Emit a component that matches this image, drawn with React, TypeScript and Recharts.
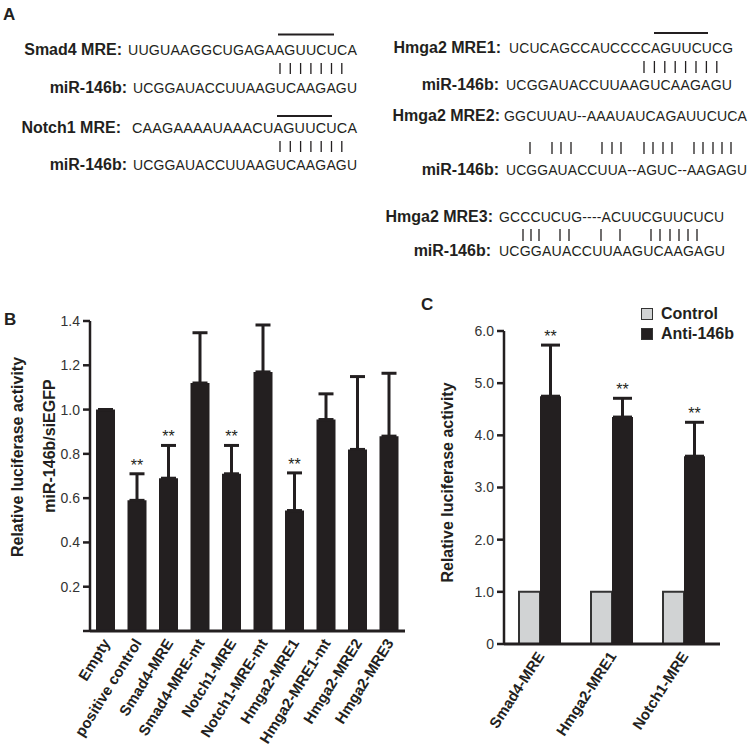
import React from 'react'
import { BarChart, Bar, XAxis, YAxis, ErrorBar, LabelList, Legend, Label } from 'recharts'

const FONT = '"Liberation Sans", Arial, Helvetica, sans-serif'
const INK = '#231f20'

/* panel A: sequences */
const mreLabels = ['Smad4 MRE:', 'Notch1 MRE:', 'Hmga2 MRE1:', 'Hmga2 MRE2:', 'Hmga2 MRE3:']
const mreSeqs = [
  'UUGUAAGGCUGAGAAGUUCUCA',
  'CAAGAAAAUAAACUAGUUCUCA',
  'UCUCAGCCAUCCCCAGUUCUCG',
  'GGCUUAU--AAAUAUCAGAUUCUCA',
  'GCCCUCUG----ACUUCGUUCUCU',
]
const mirSeqs = [
  'UCGGAUACCUUAAGUCAAGAGU',
  'UCGGAUACCUUAAGUCAAGAGU',
  'UCGGAUACCUUAAGUCAAGAGU',
  'UCGGAUACCUUA--AGUC--AAGAGU',
  'UCGGAUACCUUAAGUCAAGAGU',
]

/* panel B */
const bCategories = [
  'Empty', 'positive control', 'Smad4-MRE', 'Smad4-MRE-mt', 'Notch1-MRE',
  'Notch1-MRE-mt', 'Hmga2-MRE1', 'Hmga2-MRE1-mt', 'Hmga2-MRE2', 'Hmga2-MRE3',
]
const bValues = [1.0, 0.59, 0.69, 1.12, 0.71, 1.17, 0.544, 0.955, 0.82, 0.88]
const bErrors = [0, 0.12, 0.148, 0.227, 0.128, 0.212, 0.17, 0.116, 0.329, 0.284]
const bSig = ['', '**', '**', '', '**', '', '**', '', '', '']
const bTicks = [0, 0.2, 0.4, 0.6, 0.8, 1.0, 1.2, 1.4]

/* panel C */
const cCategories = ['Smad4-MRE', 'Hmga2-MRE1', 'Notch1-MRE']
const cSeries = ['Control', 'Anti-146b']
const cControl = [1, 1, 1]
const cAnti = [4.75, 4.35, 3.6]
const cAntiErr = [0.98, 0.36, 0.65]
const cSig = ['**', '**', '**']
const cTicks = [0, 1, 2, 3, 4, 5, 6]

// layout of the alignment text in panel A
const pipeRun = (x0: number, n: number, step: number) => Array.from({ length: n }, (_, k) => x0 + k * step)
const aLayout = [
  { labelEnd: 122, seq: [128, 357], y: 55, mirEnd: 127, mir: [133, 357], mirY: 93, pipeY: [63, 74], pipes: pipeRun(280, 7, 10.3), over: [278, 334, 34.5] },
  { labelEnd: 121, seq: [132, 357], y: 133, mirEnd: 127, mir: [133, 357], mirY: 170, pipeY: [141, 152], pipes: pipeRun(280, 7, 10.3), over: [277, 332, 116] },
  { labelEnd: 501, seq: [509, 733], y: 53, mirEnd: 499, mir: [506, 732], mirY: 90, pipeY: [61, 73], pipes: pipeRun(644, 8, 10.4), over: [654, 708, 33] },
  { labelEnd: 500, seq: [504, 747], y: 121, mirEnd: 499, mir: [506, 747], mirY: 175, pipeY: [142, 154],
    pipes: [530, 552, 561, 571, 602, 612, 621, 644, 653, 663, 672, 694, 703, 713, 722, 731], over: null },
  { labelEnd: 493, seq: [499, 724], y: 222, mirEnd: 491, mir: [499, 725], mirY: 256, pipeY: [229, 241],
    pipes: [523, 531, 539, 560, 569, 601, 620, 651, 660, 670, 679, 688, 697], over: null },
]

// Arial advance widths (em) so a sequence's natural width fits its slot
const glyphEm: Record<string, number> = { A: 0.667, C: 0.722, G: 0.778, U: 0.722, '-': 0.333 }
const fitSize = (s: string, w: number) => {
  const em = s.split('').reduce((t, ch) => t + (glyphEm[ch] ?? 0.7), 0)
  return Math.min(15.5, (w * 0.985) / em)
}

const starLabel = (errs: number[], sigs: string[], vals: number[]) => (props: any) => {
  const i = props.index
  if (i == null || !sigs[i]) return null
  const vb = props.viewBox ?? props
  const perUnit = vb.height / vals[i]
  const top = vb.y - errs[i] * perUnit
  return (
    <text x={vb.x + vb.width / 2} y={top - 3} textAnchor="middle" fontSize={16} fill={INK} fontFamily={FONT}>
      {sigs[i]}
    </text>
  )
}

const rotTick = (angle: number, size: number) => (props: any) => {
  const { x, y, payload } = props
  const tx = x + 5
  const ty = y + 10
  return (
    <text x={tx} y={ty} transform={`rotate(${angle} ${tx} ${ty})`} textAnchor="end" fontSize={size} fontWeight="bold" fill={INK} fontFamily={FONT}>
      {payload.value}
    </text>
  )
}

const renderLegend = (props: any) => {
  const items = [...(props.payload ?? [])].sort((a: any, b: any) => cSeries.indexOf(a.value) - cSeries.indexOf(b.value))
  return (
    <div style={{ fontFamily: FONT, fontWeight: 'bold', fontSize: 16, color: INK }}>
      {items.map((e: any) => (
        <div key={e.value} style={{ display: 'flex', alignItems: 'center', height: 20 }}>
          <span style={{ display: 'inline-block', width: 10, height: 10, background: e.color, border: '1px solid #333', marginRight: 8 }} />
          <span>{e.value}</span>
        </div>
      ))}
    </div>
  )
}

const yTick = { fill: '#333', fontSize: 14, fontFamily: FONT }

export default function App() {
  const bData = bCategories.map((name, i) => ({ name, value: bValues[i], err: [0, bErrors[i]] }))
  const cData = cCategories.map((name, i) => ({ name, control: cControl[i], anti: cAnti[i], antiErr: [0, cAntiErr[i]] }))

  return (
    <div style={{ position: 'absolute', left: 0, top: 0, width: 752, height: 752, background: '#fff', fontFamily: FONT }}>
      <svg width={752} height={752} style={{ position: 'absolute', left: 0, top: 0, fontFamily: FONT }}>
        <text x={3} y={20} fontWeight="bold" fontSize={17} fill={INK}>A</text>
        <text x={4} y={325} fontWeight="bold" fontSize={17} fill={INK}>B</text>
        <text x={421} y={310} fontWeight="bold" fontSize={17} fill={INK}>C</text>
        {mreLabels.map((lab, i) => {
          const L = aLayout[i]
          const sw = L.seq[1] - L.seq[0]
          const mw = L.mir[1] - L.mir[0]
          return (
            <g key={lab} fill={INK}>
              <text x={L.labelEnd} y={L.y} textAnchor="end" fontWeight="bold" fontSize={16}>{lab}</text>
              <text x={L.seq[0]} y={L.y} fontSize={fitSize(mreSeqs[i], sw)} textLength={sw} lengthAdjust="spacing">{mreSeqs[i]}</text>
              <text x={L.mirEnd} y={L.mirY} textAnchor="end" fontWeight="bold" fontSize={16}>miR-146b:</text>
              <text x={L.mir[0]} y={L.mirY} fontSize={fitSize(mirSeqs[i], mw)} textLength={mw} lengthAdjust="spacing">{mirSeqs[i]}</text>
              {L.pipes.map((px) => (
                <line key={px} x1={px} x2={px} y1={L.pipeY[0]} y2={L.pipeY[1]} stroke={INK} strokeWidth={1.3} />
              ))}
              {L.over && <line x1={L.over[0]} x2={L.over[1]} y1={L.over[2]} y2={L.over[2]} stroke={INK} strokeWidth={2} />}
            </g>
          )
        })}
      </svg>

      <div style={{ position: 'absolute', left: 0, top: 300 }}>
        <BarChart width={420} height={452} data={bData} margin={{ top: 21, right: 15, bottom: 0, left: 0 }}>
          <XAxis dataKey="name" interval={0} tickLine={false} tickSize={0} height={121}
            axisLine={{ stroke: INK, strokeWidth: 3 }} tick={rotTick(-58, 15)} />
          <YAxis type="number" domain={[0, 1.4]} ticks={bTicks} interval={0} width={90} tickSize={7} tickMargin={3}
            tickFormatter={(v: number) => (v === 0 ? '' : v.toFixed(1))}
            axisLine={{ stroke: INK, strokeWidth: 2.5 }} tickLine={{ stroke: INK, strokeWidth: 2.5 }} tick={yTick}>
            <Label content={(p: any) => {
              const vb = p.viewBox
              const cy = vb.y + vb.height / 2
              return (
                <g fontFamily={FONT} fontWeight="bold" fontSize={16} fill={INK}>
                  <text transform={`translate(23, ${cy - 19}) rotate(-90)`} textAnchor="middle">Relative luciferase activity</text>
                  <text transform={`translate(55, ${cy - 30}) rotate(-90)`} textAnchor="middle">miR-146b/siEGFP</text>
                </g>
              )
            }} />
          </YAxis>
          <Bar dataKey="value" fill={INK} barSize={19} isAnimationActive={false}>
            <ErrorBar dataKey="err" width={7.5} strokeWidth={3} stroke={INK} direction="y" />
            <LabelList content={starLabel(bErrors, bSig, bValues)} />
          </Bar>
        </BarChart>
      </div>

      <div style={{ position: 'absolute', left: 376, top: 290 }}>
        <BarChart width={376} height={462} data={cData} margin={{ top: 41, right: 32, bottom: 0, left: 0 }} barGap={0} barCategoryGap={15}>
          <XAxis dataKey="name" interval={0} tickLine={false} tickSize={0} height={108}
            axisLine={{ stroke: INK, strokeWidth: 3 }} tick={rotTick(-57, 15)} />
          <YAxis type="number" domain={[0, 6]} ticks={cTicks} interval={0} width={128} tickSize={7} tickMargin={3}
            tickFormatter={(v: number) => (v === 0 ? '0' : v.toFixed(1))}
            axisLine={{ stroke: INK, strokeWidth: 2.5 }} tickLine={{ stroke: INK, strokeWidth: 2.5 }} tick={yTick}>
            <Label content={(p: any) => {
              const vb = p.viewBox
              const cy = vb.y + vb.height / 2
              return (
                <text transform={`translate(77, ${cy - 5}) rotate(-90)`} textAnchor="middle"
                  fontFamily={FONT} fontWeight="bold" fontSize={16} fill={INK}>
                  Relative luciferase activity
                </text>
              )
            }} />
          </YAxis>
          <Legend content={renderLegend} layout="vertical" align="center" verticalAlign="middle"
            wrapperStyle={{ top: 14, left: 265, width: 'auto' }} />
          <Bar dataKey="control" name={cSeries[0]} fill="#d1d3d4" stroke="#333" strokeWidth={2} barSize={21} isAnimationActive={false} />
          <Bar dataKey="anti" name={cSeries[1]} fill={INK} barSize={21} isAnimationActive={false}>
            <ErrorBar dataKey="antiErr" width={9.5} strokeWidth={3} stroke={INK} direction="y" />
            <LabelList content={starLabel(cAntiErr, cSig, cAnti)} />
          </Bar>
        </BarChart>
      </div>
    </div>
  )
}
